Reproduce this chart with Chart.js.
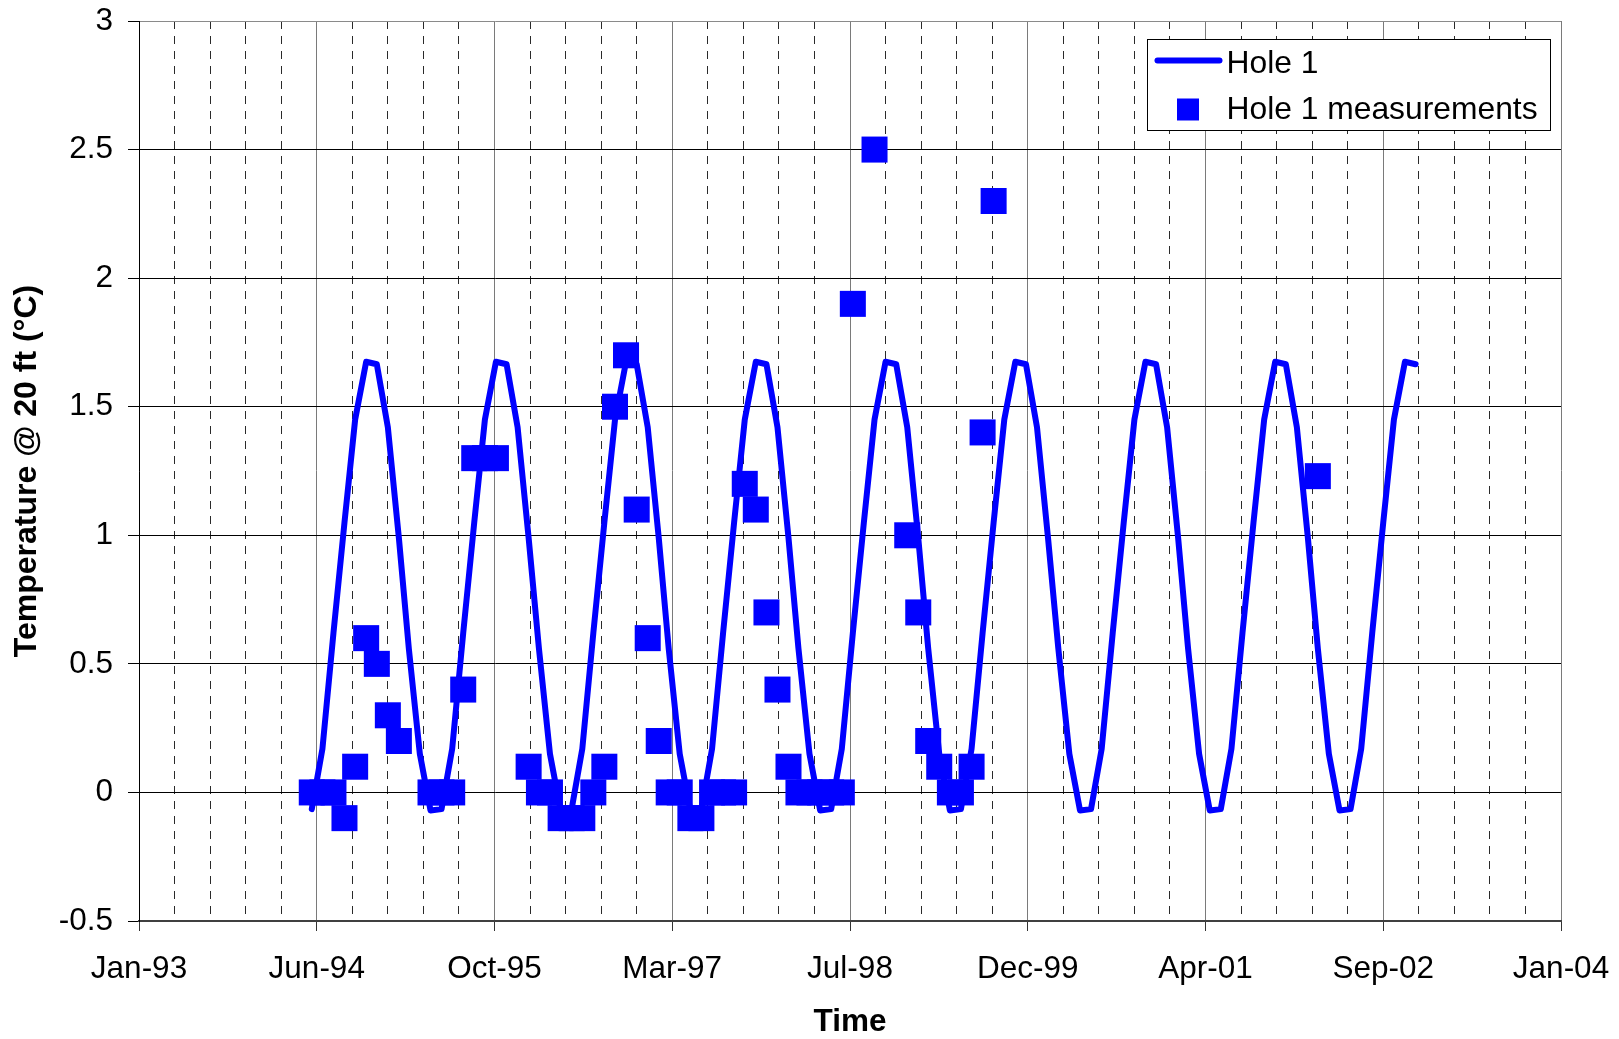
<!DOCTYPE html>
<html>
<head>
<meta charset="utf-8">
<title>Hole 1 - temperature at 20 ft</title>
<script src="https://cdn.jsdelivr.net/npm/chart.js@4.4.1/dist/chart.umd.min.js"></script>
<style>
  html, body { margin: 0; padding: 0; background: #fff; }
  #wrap { width: 1619px; height: 1039px; }
</style>
</head>
<body>
<div id="wrap"><canvas id="tempChart" width="1619" height="1039"></canvas></div>
<script>
// model curve (Hole 1), one value on the 1st of each month
const lineDates = [
  "1994-06-01","1994-07-01","1994-08-01","1994-09-01","1994-10-01","1994-11-01","1994-12-01",
  "1995-01-01","1995-02-01","1995-03-01","1995-04-01","1995-05-01","1995-06-01","1995-07-01","1995-08-01","1995-09-01","1995-10-01","1995-11-01","1995-12-01",
  "1996-01-01","1996-02-01","1996-03-01","1996-04-01","1996-05-01","1996-06-01","1996-07-01","1996-08-01","1996-09-01","1996-10-01","1996-11-01","1996-12-01",
  "1997-01-01","1997-02-01","1997-03-01","1997-04-01","1997-05-01","1997-06-01","1997-07-01","1997-08-01","1997-09-01","1997-10-01","1997-11-01","1997-12-01",
  "1998-01-01","1998-02-01","1998-03-01","1998-04-01","1998-05-01","1998-06-01","1998-07-01","1998-08-01","1998-09-01","1998-10-01","1998-11-01","1998-12-01",
  "1999-01-01","1999-02-01","1999-03-01","1999-04-01","1999-05-01","1999-06-01","1999-07-01","1999-08-01","1999-09-01","1999-10-01","1999-11-01","1999-12-01",
  "2000-01-01","2000-02-01","2000-03-01","2000-04-01","2000-05-01","2000-06-01","2000-07-01","2000-08-01","2000-09-01","2000-10-01","2000-11-01","2000-12-01",
  "2001-01-01","2001-02-01","2001-03-01","2001-04-01","2001-05-01","2001-06-01","2001-07-01","2001-08-01","2001-09-01","2001-10-01","2001-11-01","2001-12-01",
  "2002-01-01","2002-02-01","2002-03-01","2002-04-01","2002-05-01","2002-06-01","2002-07-01","2002-08-01","2002-09-01","2002-10-01","2002-11-01","2002-12-01"
];
const lineValues = [
  -0.065, 0.17, 0.62, 1.05, 1.45, 1.675, 1.665,
  1.42, 0.99, 0.56, 0.15, -0.07, -0.065, 0.17, 0.62, 1.05, 1.45, 1.675, 1.665,
  1.42, 0.99, 0.56, 0.15, -0.07, -0.065, 0.17, 0.62, 1.05, 1.45, 1.675, 1.665,
  1.42, 0.99, 0.56, 0.15, -0.07, -0.065, 0.17, 0.62, 1.05, 1.45, 1.675, 1.665,
  1.42, 0.99, 0.56, 0.15, -0.07, -0.065, 0.17, 0.62, 1.05, 1.45, 1.675, 1.665,
  1.42, 0.99, 0.56, 0.15, -0.07, -0.065, 0.17, 0.62, 1.05, 1.45, 1.675, 1.665,
  1.42, 0.99, 0.56, 0.15, -0.07, -0.065, 0.17, 0.62, 1.05, 1.45, 1.675, 1.665,
  1.42, 0.99, 0.56, 0.15, -0.07, -0.065, 0.17, 0.62, 1.05, 1.45, 1.675, 1.665,
  1.42, 0.99, 0.56, 0.15, -0.07, -0.065, 0.17, 0.62, 1.05, 1.45, 1.675, 1.665
];

// field measurements
const measDates = [
  "1994-06-01","1994-07-01","1994-08-01","1994-09-01","1994-10-01","1994-11-01","1994-12-01",
  "1995-01-01","1995-02-01","1995-05-01","1995-06-01","1995-07-01","1995-08-01","1995-09-01","1995-10-01","1995-11-01",
  "1996-02-01","1996-03-01","1996-04-01","1996-05-01","1996-06-01","1996-07-01","1996-08-01","1996-09-01","1996-10-01","1996-11-01","1996-12-01",
  "1997-01-01","1997-02-01","1997-03-01","1997-04-01","1997-05-01","1997-06-01","1997-07-01","1997-08-01","1997-09-01","1997-10-01","1997-11-01","1997-12-01",
  "1998-01-01","1998-02-01","1998-03-01","1998-04-01","1998-05-01","1998-06-01","1998-07-01","1998-08-01","1998-10-01",
  "1999-01-01","1999-02-01","1999-03-01","1999-04-01","1999-05-01","1999-06-01","1999-07-01","1999-08-01","1999-09-01",
  "2002-03-01"
];
const measValues = [
  0, 0, 0, -0.1, 0.1, 0.6, 0.5,
  0.3, 0.2, 0, 0, 0, 0.4, 1.3, 1.3, 1.3,
  0.1, 0, 0, -0.1, -0.1, -0.1, 0, 0.1, 1.5, 1.7, 1.1,
  0.6, 0.2, 0, 0, -0.1, -0.1, 0, 0, 0, 1.2, 1.1, 0.7,
  0.4, 0.1, 0, 0, 0, 0, 0, 1.9, 2.5,
  1.0, 0.7, 0.2, 0.1, 0, 0, 0.1, 1.4, 2.3,
  1.23
];

// x axis is in spreadsheet day numbers
const xTickValues = [34000, 34500, 35000, 35500, 36000, 36500, 37000, 37500, 38000];
const xTickLabels = ["Jan-93", "Jun-94", "Oct-95", "Mar-97", "Jul-98", "Dec-99", "Apr-01", "Sep-02", "Jan-04"];
const yTickValues = [-0.5, 0, 0.5, 1, 1.5, 2, 2.5, 3];

const BLUE = "#0000ff";
const FONT_FAMILY = "'Liberation Sans', Arial, Helvetica, sans-serif";

function toSerial(iso) {
  const p = iso.split("-").map(Number);
  return (Date.UTC(p[0], p[1] - 1, p[2]) - Date.UTC(1899, 11, 30)) / 86400000;
}

function isMajor(v) {
  return xTickValues.includes(v);
}

const linePoints = lineDates.map((d, i) => ({ x: toSerial(d), y: lineValues[i] }));
const measPoints = measDates.map((d, i) => ({ x: toSerial(d), y: measValues[i] }));

// legend sits inside the plot, top right, with a frame
const frameLegend = {
  id: "frameLegend",
  afterDraw(chart) {
    const { ctx, chartArea } = chart;
    const w = 403, h = 91;
    const left = chartArea.right - 10.5 - w;
    const top = chartArea.top + 18.5;
    ctx.save();
    ctx.fillStyle = "#fff";
    ctx.fillRect(left, top, w, h);
    ctx.strokeStyle = "#000";
    ctx.lineWidth = 1;
    ctx.strokeRect(left, top, w, h);

    // line sample
    ctx.strokeStyle = BLUE;
    ctx.lineWidth = 6;
    ctx.lineCap = "round";
    ctx.beginPath();
    ctx.moveTo(left + 10, top + 21);
    ctx.lineTo(left + 72, top + 21);
    ctx.stroke();

    // marker sample
    ctx.fillStyle = BLUE;
    ctx.fillRect(left + 29.5, top + 59, 22, 22);

    ctx.fillStyle = "#000";
    ctx.font = "31.8px " + FONT_FAMILY;
    ctx.textAlign = "left";
    ctx.textBaseline = "middle";
    ctx.fillText(chart.data.datasets[0].label, left + 79, top + 25);
    ctx.fillText(chart.data.datasets[1].label, left + 79, top + 71);
    ctx.restore();
  }
};

new Chart(document.getElementById("tempChart"), {
  type: "scatter",
  data: {
    datasets: [
      {
        type: "line",
        label: "Hole 1",
        data: linePoints,
        borderColor: BLUE,
        backgroundColor: BLUE,
        borderWidth: 6,
        borderCapStyle: "round",
        borderJoinStyle: "round",
        pointRadius: 0,
        tension: 0,
        fill: false,
      },
      {
        label: "Hole 1 measurements",
        data: measPoints,
        pointStyle: "rect",
        pointRadius: 18.4,
        backgroundColor: BLUE,
        borderColor: BLUE,
        borderWidth: 0,
        showLine: false,
      },
    ],
  },
  options: {
    responsive: false,
    animation: false,
    events: [],
    layout: { padding: { left: 0, right: 58, top: 21, bottom: 0 } },
    plugins: {
      legend: { display: false },
      tooltip: { enabled: false },
    },
    scales: {
      x: {
        type: "linear",
        min: 34000,
        max: 38000,
        afterFit: (scale) => {
          scale.height = 118;
          scale.paddingLeft = 0;
          scale.paddingRight = 0;
        },
        ticks: {
          stepSize: 100,
          autoSkip: false,
          maxRotation: 0,
          padding: 19,
          color: "#000",
          font: { family: FONT_FAMILY, size: 31.5 },
          callback: (v) => {
            const i = xTickValues.indexOf(v);
            return i >= 0 ? xTickLabels[i] : "";
          },
        },
        grid: {
          color: (c) => (c.tick && isMajor(c.tick.value) ? "#7a7a7a" : "#2a2a2a"),
          lineWidth: 1,
          tickLength: 10,
          tickColor: (c) => (c.tick && isMajor(c.tick.value) ? "#333" : "rgba(0,0,0,0)"),
        },
        border: {
          display: true,
          color: "#404040",
          width: 2,
          dash: (c) => (c.tick && !isMajor(c.tick.value) ? [8, 7] : []),
        },
        title: {
          display: true,
          text: "Time",
          color: "#000",
          font: { family: FONT_FAMILY, size: 31.5, weight: "bold" },
          padding: { top: 0, bottom: -2 },
        },
      },
      y: {
        min: -0.5,
        max: 3,
        afterFit: (scale) => {
          scale.width = 139;
          scale.paddingTop = 0;
          scale.paddingBottom = 0;
        },
        afterBuildTicks: (scale) => { scale.ticks = yTickValues.map((v) => ({ value: v })); },
        ticks: {
          padding: 15,
          color: "#000",
          font: { family: FONT_FAMILY, size: 31.5 },
          callback: (v) => String(v),
        },
        grid: {
          color: (c) => (c.tick && c.tick.value === 3 ? "#8a8a8a" : "#000"),
          lineWidth: 1,
          tickLength: 11,
          tickColor: "#000",
        },
        border: { display: true, color: "#000", width: 1 },
        title: {
          display: true,
          text: "Temperature @ 20 ft (°C)",
          color: "#000",
          font: { family: FONT_FAMILY, size: 32, weight: "bold" },
          padding: { top: 8, bottom: 0 },
        },
      },
    },
  },
  plugins: [frameLegend],
});
</script>
</body>
</html>
